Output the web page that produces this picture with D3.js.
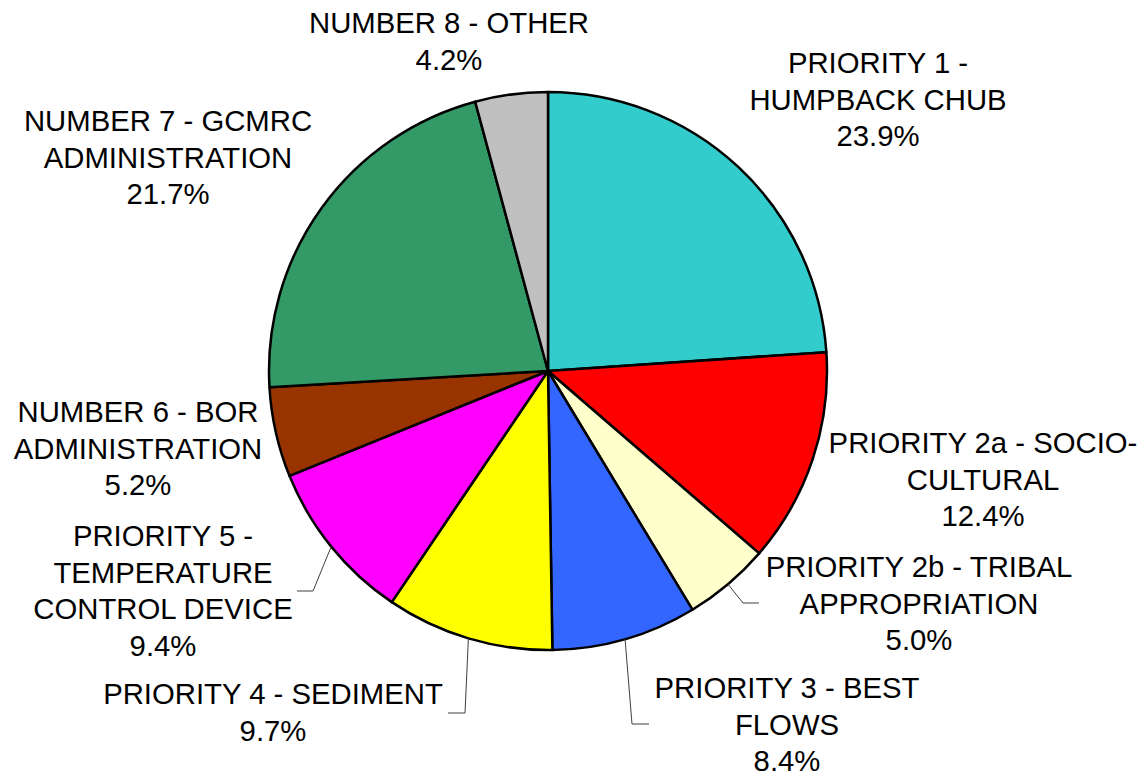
<!DOCTYPE html>
<html>
<head>
<meta charset="utf-8">
<script src="https://cdn.jsdelivr.net/npm/d3@7"></script>
<style>
  html, body { margin: 0; padding: 0; background: #fff; }
  svg { display: block; }
</style>
</head>
<body>
<svg id="pie"></svg>
<script>
// slice data, clockwise from 12 o'clock
const categories = [
  "PRIORITY 1 - HUMPBACK CHUB",
  "PRIORITY 2a - SOCIO-CULTURAL",
  "PRIORITY 2b - TRIBAL APPROPRIATION",
  "PRIORITY 3 - BEST FLOWS",
  "PRIORITY 4 - SEDIMENT",
  "PRIORITY 5 - TEMPERATURE CONTROL DEVICE",
  "NUMBER 6 - BOR ADMINISTRATION",
  "NUMBER 7 - GCMRC ADMINISTRATION",
  "NUMBER 8 - OTHER"
];
const values = [23.9, 12.4, 5.0, 8.4, 9.7, 9.4, 5.2, 21.7, 4.2];

// how each label wraps in the picture
const labelLines = [
  ["PRIORITY 1 -", "HUMPBACK CHUB"],
  ["PRIORITY 2a - SOCIO-", "CULTURAL"],
  ["PRIORITY 2b - TRIBAL", "APPROPRIATION"],
  ["PRIORITY 3 - BEST", "FLOWS"],
  ["PRIORITY 4 - SEDIMENT"],
  ["PRIORITY 5 -", "TEMPERATURE", "CONTROL DEVICE"],
  ["NUMBER 6 - BOR", "ADMINISTRATION"],
  ["NUMBER 7 - GCMRC", "ADMINISTRATION"],
  ["NUMBER 8 - OTHER"]
];

const colors = ["#33cccc", "#ff0000", "#ffffcc", "#3366ff", "#ffff00",
                "#ff00ff", "#993300", "#339966", "#c0c0c0"];

const width = 1144, height = 776;
const cx = 548, cy = 371, radius = 279;
const lineH = 36.5;

// label anchor: centre x, first baseline y; leader: elbow + end (none = no leader)
const labelPos = [
  { x: 878, y: 73 },
  { x: 983, y: 453 },
  { x: 919, y: 577, elbow: [743, 603], end: [759, 603] },
  { x: 787, y: 698, elbow: [632, 724], end: [649, 724] },
  { x: 273, y: 704, elbow: [465, 713], end: [448, 713] },
  { x: 163, y: 546, elbow: [313, 591], end: [297, 591] },
  { x: 138, y: 422 },
  { x: 168, y: 131 },
  { x: 449, y: 33 }
];

const data = categories.map((c, i) => ({ name: c, value: values[i], i }));

const svg = d3.select("#pie")
  .attr("width", width)
  .attr("height", height);

const g = svg.append("g")
  .attr("transform", `translate(${cx},${cy})`);

const pie = d3.pie()
  .sort(null)
  .value(d => d.value);

const arc = d3.arc()
  .innerRadius(0)
  .outerRadius(radius);

const arcs = pie(data);

g.selectAll("path.slice")
  .data(arcs)
  .join("path")
  .attr("class", "slice")
  .attr("d", arc)
  .attr("fill", d => colors[d.data.i])
  .attr("stroke", "#000")
  .attr("stroke-width", 2.5)
  .attr("stroke-linejoin", "round");

// leader lines: from the rim at the slice's mid angle to the label
const rim = d3.arc().innerRadius(radius).outerRadius(radius);
svg.selectAll("polyline.leader")
  .data(arcs.filter(d => labelPos[d.data.i].elbow))
  .join("polyline")
  .attr("class", "leader")
  .attr("fill", "none")
  .attr("stroke", "#404040")
  .attr("stroke-width", 1)
  .attr("points", d => {
    const [px, py] = rim.centroid(d);
    const p = labelPos[d.data.i];
    return [[cx + px, cy + py], p.elbow, p.end].map(q => q.join(",")).join(" ");
  });

// labels
const fmt = d3.format(".1f");
const labels = svg.selectAll("text.label")
  .data(arcs)
  .join("text")
  .attr("class", "label")
  .attr("text-anchor", "middle")
  .style("font-family", "'Liberation Sans', Arial, sans-serif")
  .style("font-size", "29.3px")
  .attr("fill", "#000")
  .attr("x", d => labelPos[d.data.i].x)
  .attr("y", d => labelPos[d.data.i].y);

labels.each(function(d) {
  const t = d3.select(this);
  const p = labelPos[d.data.i];
  const lines = labelLines[d.data.i].concat(fmt(d.data.value) + "%");
  lines.forEach((ln, k) => {
    t.append("tspan")
      .attr("x", p.x)
      .attr("y", p.y + k * lineH)
      .text(ln);
  });
});
</script>
</body>
</html>
